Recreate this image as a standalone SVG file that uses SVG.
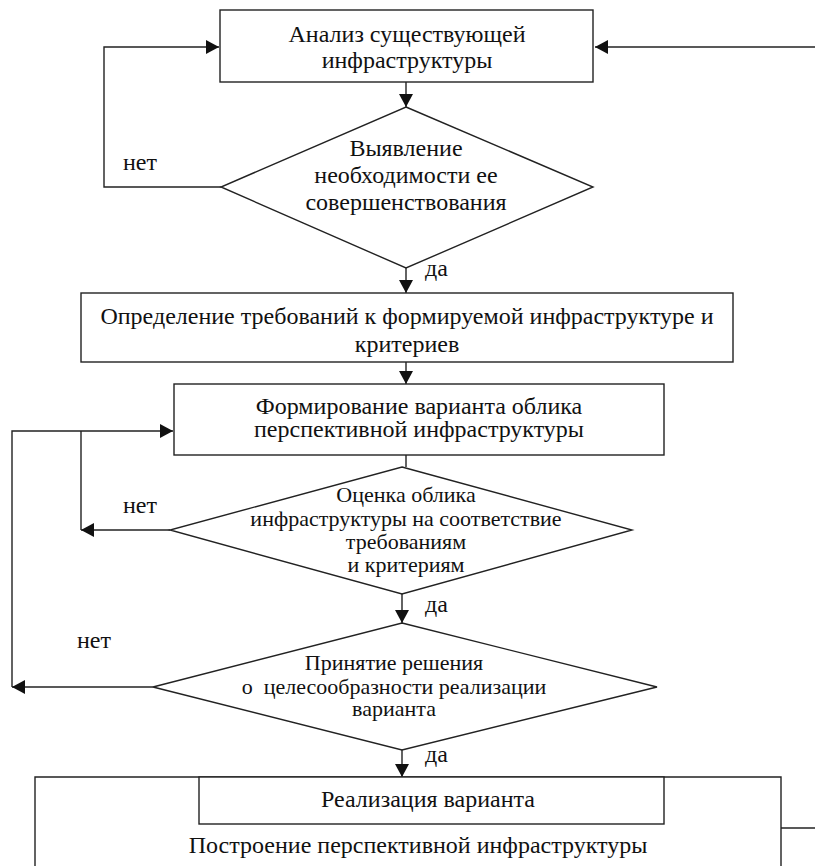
<svg xmlns="http://www.w3.org/2000/svg" width="815" height="866" viewBox="0 0 815 866">
<defs>
<style>
.n{fill:#fff;stroke:#222;stroke-width:1.4}
.c{fill:none;stroke:#222;stroke-width:1.4}
.t{font-family:'Liberation Serif','Times New Roman',serif;font-size:24px;fill:#111}
.s{font-size:22px}
.m{text-anchor:middle}
</style>
<marker id="ah" markerUnits="userSpaceOnUse" markerWidth="14" markerHeight="14" viewBox="0 0 14 14" refX="13" refY="7" orient="auto">
<path d="M0,0 L13,7 L0,14 Z" fill="#111"/>
</marker>
</defs>
<rect width="815" height="866" fill="#fff"/>
<g id="connectors">
<line class="c" x1="406" y1="82" x2="406" y2="107" marker-end="url(#ah)"/>
<polyline class="c" points="221,187 104,187 104,47 219,47" marker-end="url(#ah)"/>
<line class="c" x1="815" y1="47" x2="595" y2="47" marker-end="url(#ah)"/>
<line class="c" x1="406" y1="268" x2="406" y2="293" marker-end="url(#ah)"/>
<line class="c" x1="406" y1="362" x2="406" y2="384" marker-end="url(#ah)"/>
<line class="c" x1="406" y1="455" x2="406" y2="467"/>
<line class="c" x1="170" y1="530" x2="81" y2="530" marker-end="url(#ah)"/>
<line class="c" x1="81" y1="530" x2="81" y2="431"/>
<polyline class="c" points="12,687 12,431 173,431" marker-end="url(#ah)"/>
<line class="c" x1="402" y1="594" x2="402" y2="623" marker-end="url(#ah)"/>
<line class="c" x1="153" y1="687" x2="12" y2="687" marker-end="url(#ah)"/>
<line class="c" x1="402" y1="750" x2="402" y2="777" marker-end="url(#ah)"/>
<line class="c" x1="781" y1="828" x2="815" y2="828"/>
<text class="t" x="123" y="170">нет</text>
<text class="t" x="123" y="513">нет</text>
<text class="t" x="77" y="648">нет</text>
<text class="t" x="425" y="276">да</text>
<text class="t" x="425" y="612">да</text>
<text class="t" x="425" y="762">да</text>
</g>
<g id="node-analysis">
<rect class="n" x="220" y="10" width="373" height="72"/>
<text class="t m" x="407" y="42">Анализ существующей</text>
<text class="t m" x="407" y="68">инфраструктуры</text>
</g>
<g id="node-need">
<polygon class="n" points="406,107 593,187 406,268 221,187"/>
<text class="t m" x="406" y="156">Выявление</text>
<text class="t m" x="406" y="183">необходимости ее</text>
<text class="t m" x="406" y="210">совершенствования</text>
</g>
<g id="node-requirements">
<rect class="n" x="81" y="293" width="652" height="69"/>
<text class="t m" x="407" y="324">Определение требований к формируемой инфраструктуре и</text>
<text class="t m" x="407" y="352">критериев</text>
</g>
<g id="node-variant">
<rect class="n" x="174" y="384" width="490" height="71"/>
<text class="t m" x="419" y="414">Формирование варианта облика</text>
<text class="t m" x="419" y="437">перспективной инфраструктуры</text>
</g>
<g id="node-evaluate">
<polygon class="n" points="402,467 632,530 402,594 170,530"/>
<text class="t s m" x="406" y="502">Оценка облика</text>
<text class="t s m" x="406" y="526">инфраструктуры на соответствие</text>
<text class="t s m" x="406" y="549">требованиям</text>
<text class="t s m" x="406" y="572">и критериям</text>
</g>
<g id="node-decision">
<polygon class="n" points="402,623 657,687 402,750 153,687"/>
<text class="t s m" x="394" y="670">Принятие решения</text>
<text class="t s m" x="394" y="694" xml:space="preserve">о  целесообразности реализации</text>
<text class="t s m" x="394" y="716">варианта</text>
</g>
<g id="node-build">
<polyline class="c" points="35,880 35,777 781,777 781,880"/>
<text class="t m" x="418" y="853">Построение перспективной инфраструктуры</text>
</g>
<g id="node-realize">
<rect class="n" x="199" y="777" width="465" height="47"/>
<text class="t m" x="428" y="807">Реализация варианта</text>
</g>
</svg>
